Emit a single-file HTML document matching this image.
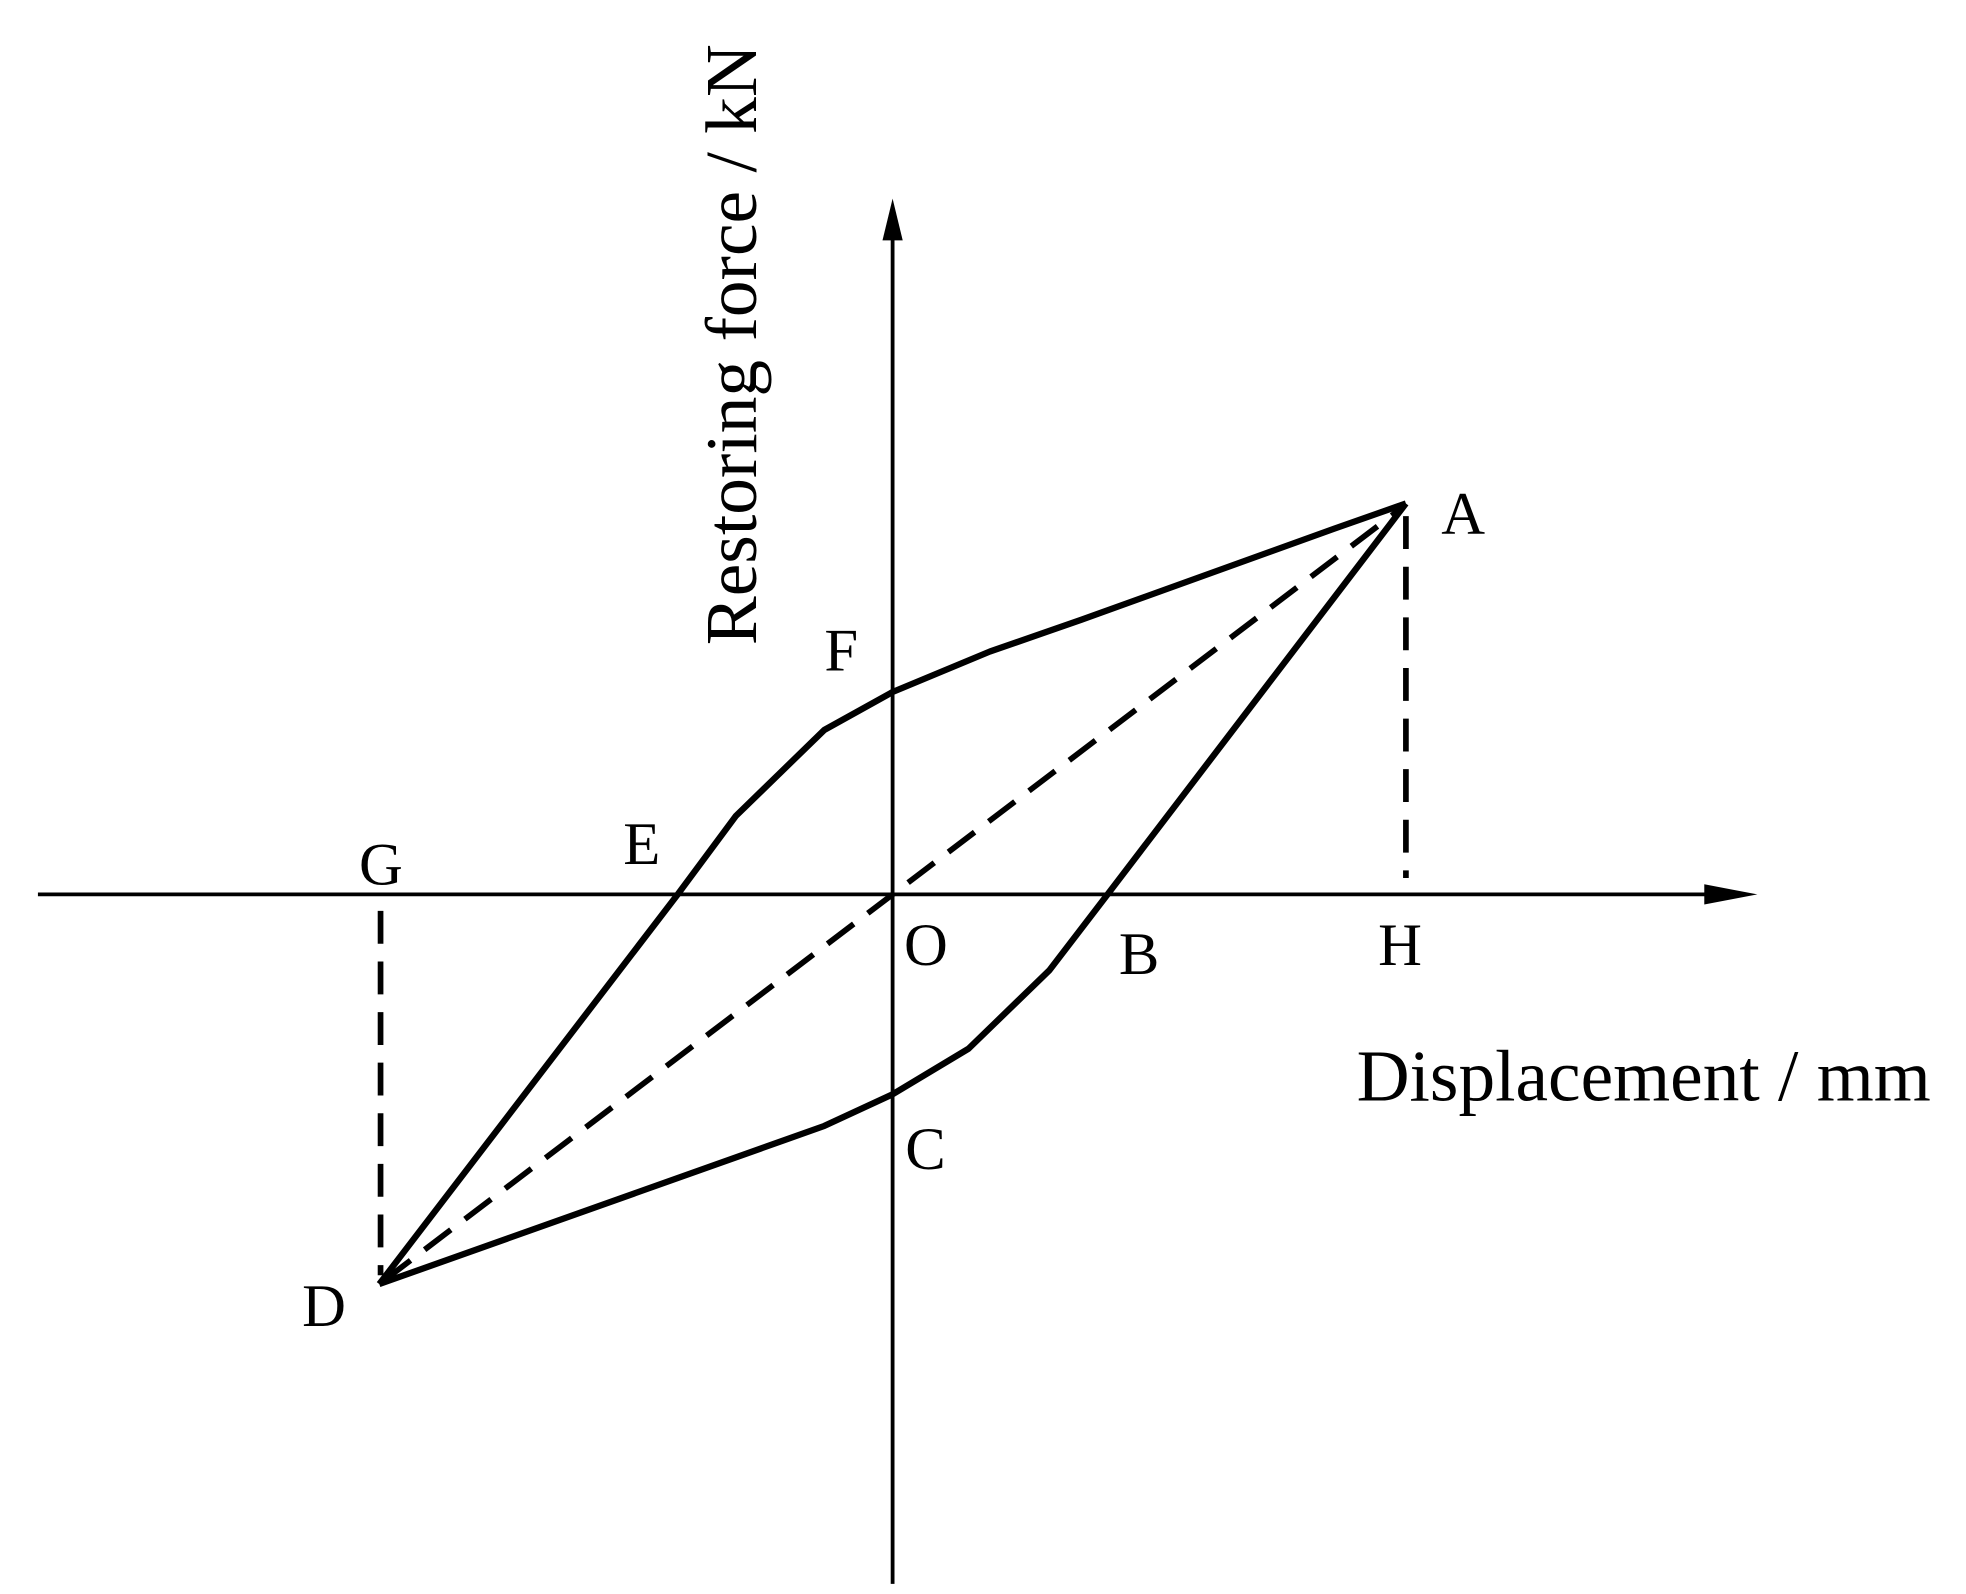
<!DOCTYPE html>
<html><head><meta charset="utf-8"><style>
html,body{margin:0;padding:0;background:#fff;}
svg{display:block;}
text{font-family:"Liberation Serif",serif;fill:#000;}
</style></head><body>
<svg width="1966" height="1594" viewBox="0 0 1555 1260" preserveAspectRatio="none" xmlns="http://www.w3.org/2000/svg">
<rect width="1555" height="1260" fill="#fff"/>
<line x1="706" y1="1252" x2="706" y2="185" stroke="#000" stroke-width="3"/>
<polygon points="706,157 698,190 714,190" fill="#000"/>
<line x1="30" y1="707" x2="1355" y2="707" stroke="#000" stroke-width="3"/>
<polygon points="1390,707 1348,699 1348,715" fill="#000"/>
<g stroke="#000" stroke-width="4.5" stroke-dasharray="26,14" fill="none">
<line x1="304" y1="1012" x2="1108" y2="402"/>
<line x1="301" y1="720" x2="301" y2="1008"/>
<line x1="1112" y1="408" x2="1112" y2="694"/>
</g>
<g stroke="#000" stroke-width="5" fill="none" stroke-linejoin="round">
<polyline points="300,1015 652,890 706,865 766,829 830,767 876,707 1112,398"/>
<polyline points="300,1015 536,707 582,645 652,577 706,547 783,515 855,490 1055,418 1112,398"/>
</g>
<g font-size="48">
<text x="1140" y="422">A</text>
<text x="652" y="530">F</text>
<text x="493" y="683">E</text>
<text x="284" y="699">G</text>
<text x="715" y="763">O</text>
<text x="885" y="770">B</text>
<text x="1090" y="763">H</text>
<text x="716" y="924">C</text>
<text x="239" y="1048">D</text>
</g>
<text x="1073" y="870" font-size="58">Displacement / mm</text>
<text transform="translate(598,510) rotate(-90)" font-size="58">Restoring force / kN</text>
</svg>
</body></html>
